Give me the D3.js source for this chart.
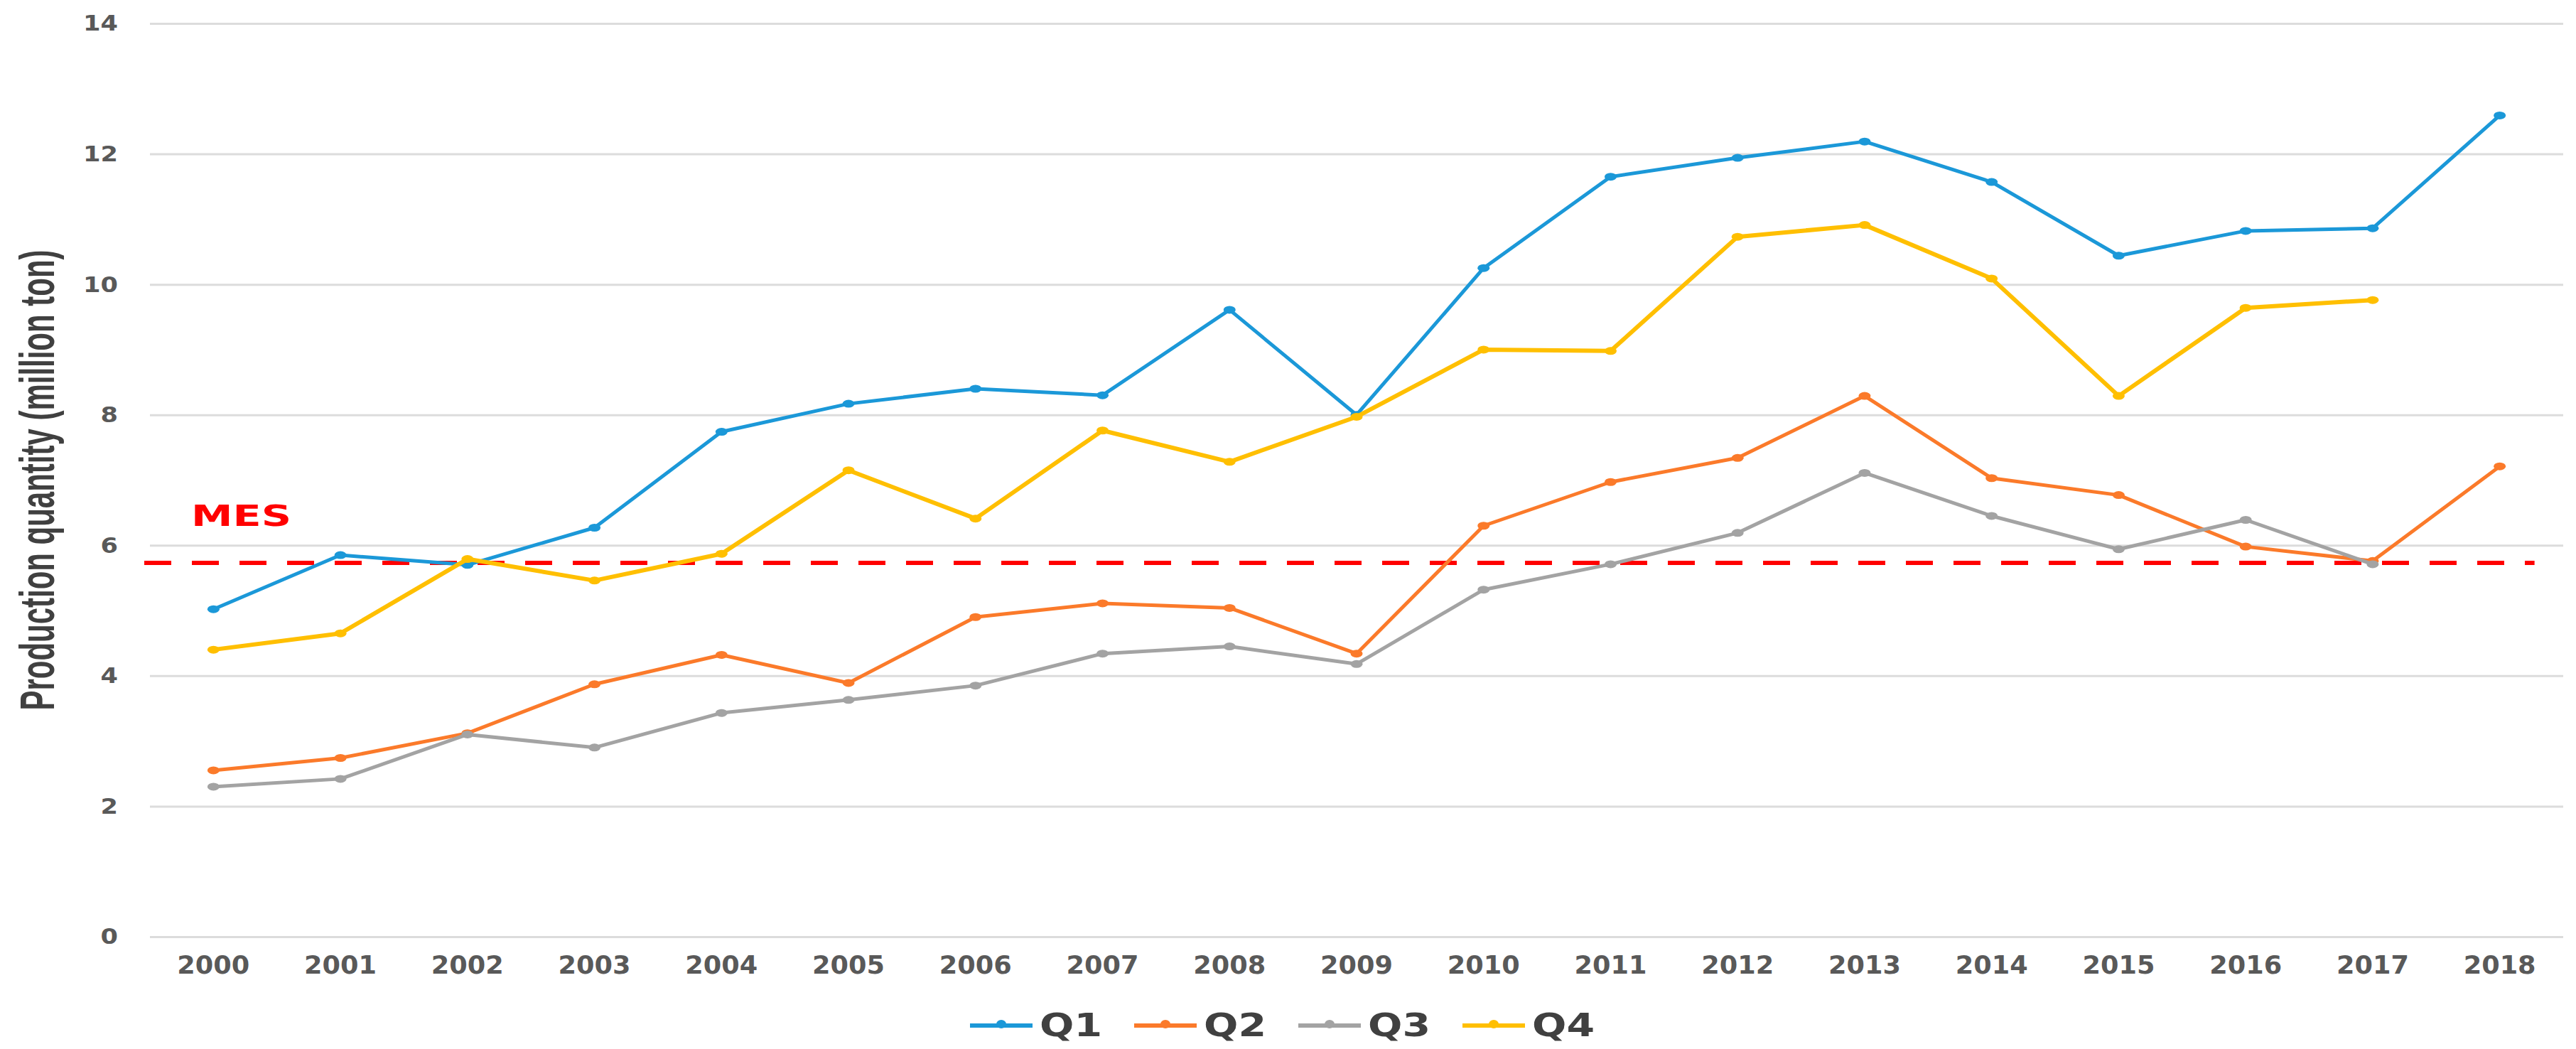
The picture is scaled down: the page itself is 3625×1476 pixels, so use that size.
<!DOCTYPE html>
<html>
<head>
<meta charset="utf-8">
<script src="https://cdn.jsdelivr.net/npm/d3@7"></script>
<style>
  body { margin: 0; background: #fff; }
</style>
</head>
<body>
<div id="chart-area"></div>
<script>
// values (million ton)
const years = ["2000","2001","2002","2003","2004","2005","2006","2007","2008","2009",
               "2010","2011","2012","2013","2014","2015","2016","2017","2018"];
const q1 = [5.02, 5.85, 5.70, 6.27, 7.74, 8.17, 8.40, 8.30, 9.61, 8.00,
            10.25, 11.65, 11.94, 12.19, 11.57, 10.44, 10.82, 10.86, 12.59];
const q2 = [2.55, 2.74, 3.12, 3.87, 4.32, 3.89, 4.90, 5.11, 5.04, 4.34,
            6.30, 6.97, 7.34, 8.29, 7.03, 6.77, 5.98, 5.76, 7.21];
const q3 = [2.30, 2.42, 3.10, 2.90, 3.43, 3.63, 3.85, 4.34, 4.45, 4.18,
            5.32, 5.71, 6.19, 7.11, 6.45, 5.94, 6.39, 5.71, null];
const q4 = [4.40, 4.65, 5.79, 5.46, 5.87, 7.15, 6.41, 7.76, 7.28, 7.97,
            9.00, 8.98, 10.73, 10.91, 10.09, 8.29, 9.64, 9.76, null];
const seriesNames = ["Q1", "Q2", "Q3", "Q4"];
const colors = ["#1b98d8", "#fb7a2a", "#a3a3a3", "#ffbf00"];
const yTicks = [0, 2, 4, 6, 8, 10, 12, 14];
const mesValue = 5.73;
const mesLabel = "MES";
const yTitle = "Production quantity (million ton)";

const W = 3625, H = 1476;
const margin = { left: 211, right: 18, top: 33, bottom: 158 };
const width = W - margin.left - margin.right,
      height = H - margin.top - margin.bottom;

const svg = d3.select("#chart-area")
  .append("svg")
    .attr("width", W)
    .attr("height", H);

const g = svg.append("g")
    .attr("transform", "translate(" + margin.left + "," + margin.top + ")");

const xScale = d3.scaleBand()
  .domain(years)
  .range([0, width]);

const yScale = d3.scaleLinear()
  .domain([0, 14])
  .range([height, 0]);

const cx = (d) => xScale(d) + xScale.bandwidth() / 2;

// gridlines + y labels
const yAxis = g.append("g")
  .call(d3.axisLeft(yScale).tickValues(yTicks).tickSize(-width).tickPadding(45));
yAxis.select(".domain").remove();
yAxis.selectAll(".tick line")
  .attr("stroke", "#dcdcdc")
  .attr("stroke-width", 3);
yAxis.selectAll(".tick text")
  .attr("fill", "#595959")
  .attr("font-family", "DejaVu Sans")
  .attr("font-weight", "bold")
  .attr("font-size", 31)
  .attr("textLength", (d) => String(d).length * 24.5)
  .attr("lengthAdjust", "spacingAndGlyphs");

// x labels
const xAxis = g.append("g")
  .attr("transform", "translate(0," + height + ")")
  .call(d3.axisBottom(xScale).tickSize(0).tickPadding(27));
xAxis.select(".domain").remove();
xAxis.selectAll(".tick text")
  .attr("fill", "#595959")
  .attr("font-family", "DejaVu Sans")
  .attr("font-weight", "bold")
  .attr("font-size", 35)
  .attr("textLength", 102)
  .attr("lengthAdjust", "spacingAndGlyphs");

// MES reference line
g.append("line")
  .attr("x1", -8)
  .attr("x2", cx("2018") + 49)
  .attr("y1", yScale(mesValue))
  .attr("y2", yScale(mesValue))
  .attr("stroke", "#ff0000")
  .attr("stroke-width", 6)
  .attr("stroke-dasharray", "38,29");

g.append("text")
  .attr("x", 58)
  .attr("y", yScale(mesValue) - 52)
  .attr("fill", "#ff0000")
  .attr("font-family", "DejaVu Sans")
  .attr("font-weight", "bold")
  .attr("font-size", 41)
  .attr("textLength", 141)
  .attr("lengthAdjust", "spacingAndGlyphs")
  .text(mesLabel);

// series
const series = [q1, q2, q3, q4].map((vals, i) => ({
  name: seriesNames[i],
  color: colors[i],
  values: years.map((yr, j) => ({ year: yr, value: vals[j] }))
}));

const line = d3.line()
  .defined((d) => d.value != null)
  .x((d) => cx(d.year))
  .y((d) => yScale(d.value));

const sg = g.selectAll(".series")
  .data(series)
  .enter()
  .append("g")
    .attr("class", "series");

sg.append("path")
  .attr("d", (d) => line(d.values))
  .attr("fill", "none")
  .attr("stroke", (d) => d.color)
  .attr("stroke-width", (d) => d.name === "Q4" ? 6 : 5)
  .attr("stroke-linejoin", "round");

sg.selectAll("ellipse")
  .data((d) => d.values.filter((v) => v.value != null).map((v) => ({ ...v, color: d.color })))
  .enter()
  .append("ellipse")
    .attr("cx", (d) => cx(d.year))
    .attr("cy", (d) => yScale(d.value))
    .attr("rx", 8.5)
    .attr("ry", 5.5)
    .attr("fill", (d) => d.color);

// y axis title - squeezed along its length with a scale instead of textLength
const title = svg.append("text")
  .attr("text-anchor", "middle")
  .attr("fill", "#404040")
  .attr("font-family", "Liberation Sans Narrow, Liberation Sans, sans-serif")
  .attr("font-weight", "bold")
  .attr("font-size", 68)
  .text(yTitle);
const natural = title.node().getComputedTextLength();
title.attr("transform", "translate(76," + (margin.top + yScale(7)) + ") rotate(-90) scale(" + (648 / natural) + ",1)");

// legend
const legend = svg.append("g")
  .attr("transform", "translate(1365,1443)");

const li = legend.selectAll(".item")
  .data(series)
  .enter()
  .append("g")
    .attr("class", "item")
    .attr("transform", (d, i) => "translate(" + (i * 231) + ",0)");

li.append("line")
  .attr("x1", 0).attr("x2", 88)
  .attr("stroke", (d) => d.color)
  .attr("stroke-width", 6);

li.append("ellipse")
  .attr("cx", 44).attr("cy", -2)
  .attr("rx", 7).attr("ry", 6)
  .attr("fill", (d) => d.color);

li.append("text")
  .attr("x", 98)
  .attr("y", 15)
  .attr("fill", "#404040")
  .attr("font-family", "DejaVu Sans")
  .attr("font-weight", "bold")
  .attr("font-size", 44)
  .attr("textLength", 88)
  .attr("lengthAdjust", "spacingAndGlyphs")
  .text((d) => d.name);
</script>
</body>
</html>
